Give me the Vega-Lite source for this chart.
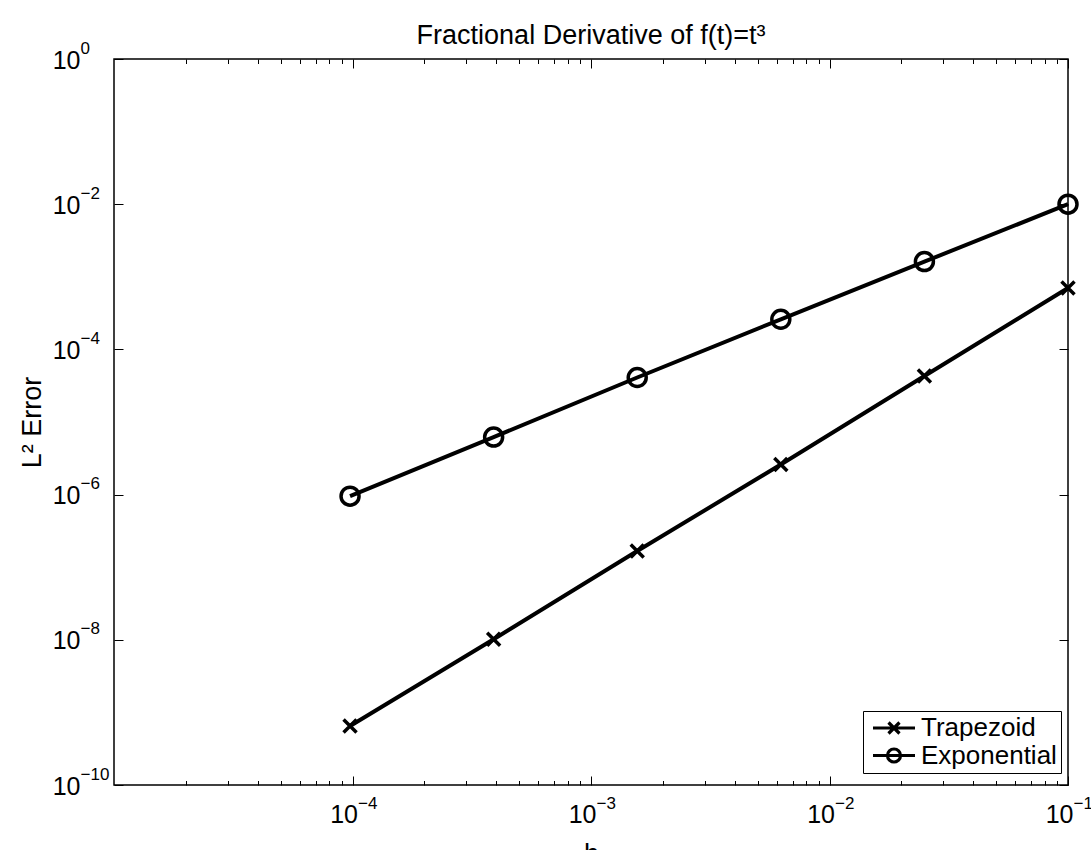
{
  "$schema": "https://vega.github.io/schema/vega-lite/v6.json",
  "width": 954,
  "height": 726,
  "autosize": "none",
  "padding": {"left": 114, "top": 59, "right": 23, "bottom": 65},
  "background": "white",
  "config": {
    "font": "Liberation Sans",
    "view": {"stroke": "black", "strokeWidth": 1.5},
    "axis": {
      "grid": false,
      "domain": false,
      "tickColor": "black",
      "tickWidth": 1,
      "labelColor": "black",
      "labelFont": "Liberation Sans",
      "labelFontSize": 25,
      "labelOverlap": false,
      "labelFlush": false,
      "labelBound": false,
      "titleColor": "black",
      "titleFont": "Liberation Sans",
      "titleFontSize": 27,
      "titleFontWeight": "normal"
    },
    "legend": {
      "orient": "none",
      "legendX": 749,
      "legendY": 652,
      "strokeColor": "black",
      "fillColor": "white",
      "padding": 4,
      "labelFont": "Liberation Sans",
      "labelFontSize": 26,
      "labelColor": "black",
      "symbolSize": 400,
      "symbolStrokeWidth": 3.2,
      "symbolStrokeColor": "black",
      "symbolFillColor": "transparent",
      "symbolOpacity": 1,
      "symbolOffset": 14,
      "labelOffset": 14,
      "rowPadding": 1.5
    }
  },
  "title": {
    "text": "Fractional Derivative of f(t)=t³",
    "font": "Liberation Sans",
    "fontSize": 27,
    "fontWeight": "normal",
    "color": "black",
    "anchor": "middle",
    "frame": "group",
    "baseline": "alphabetic",
    "offset": 12,
    "dy": 44
  },
  "data": {
    "values": [
      {"h": 0.1, "err": 0.0007, "method": "Trapezoid"},
      {"h": 0.025, "err": 0.000043, "method": "Trapezoid"},
      {"h": 0.00625, "err": 0.0000026, "method": "Trapezoid"},
      {"h": 0.0015625, "err": 1.67e-7, "method": "Trapezoid"},
      {"h": 0.000390625, "err": 1.02e-8, "method": "Trapezoid"},
      {"h": 0.00009765625, "err": 6.5e-10, "method": "Trapezoid"},
      {"h": 0.1, "err": 0.01, "method": "Exponential"},
      {"h": 0.025, "err": 0.00162, "method": "Exponential"},
      {"h": 0.00625, "err": 0.00026, "method": "Exponential"},
      {"h": 0.0015625, "err": 0.000041, "method": "Exponential"},
      {"h": 0.000390625, "err": 0.0000062, "method": "Exponential"},
      {"h": 0.00009765625, "err": 9.5e-7, "method": "Exponential"}
    ]
  },
  "layer": [
    {
      "mark": {"type": "line", "color": "black", "strokeWidth": 4},
      "encoding": {
        "x": {
          "field": "h",
          "type": "quantitative",
          "scale": {"type": "log", "domain": [0.00001, 0.1], "nice": false},
          "axis": {
            "orient": "bottom",
            "values": [0.00002, 0.00003, 0.00004, 0.00005, 0.00006, 0.00007, 0.00008, 0.00009, 0.0001, 0.0002, 0.0003, 0.0004, 0.0005, 0.0006, 0.0007, 0.0008, 0.0009, 0.001, 0.002, 0.003, 0.004, 0.005, 0.006, 0.007, 0.008, 0.009, 0.01, 0.02, 0.03, 0.04, 0.05, 0.06, 0.07, 0.08, 0.09, 0.1],
            "tickSize": {"condition": {"test": "indexof([0.0001,0.001,0.01,0.1], datum.value) >= 0", "value": -9}, "value": -4.5},
            "labelExpr": "indexof([0.0001,0.001,0.01,0.1], datum.value) >= 0 ? '10' : ''",
            "labelAlign": "right",
            "labelBaseline": "alphabetic",
            "labelOffset": 5,
            "labelPadding": 46,
            "title": "h",
            "titleX": 477,
            "titleY": 77,
            "titleBaseline": "alphabetic",
            "titleAlign": "center"
          }
        },
        "y": {
          "field": "err",
          "type": "quantitative",
          "scale": {"type": "log", "domain": [1e-10, 1], "nice": false},
          "axis": {
            "orient": "left",
            "values": [1, 0.01, 0.0001, 0.000001, 1e-8, 1e-10],
            "tickSize": -9,
            "labelExpr": "'10'",
            "labelAlign": "right",
            "labelBaseline": "middle",
            "labelOffset": 1,
            "labelPadding": 43,
            "title": "L² Error",
            "titleAngle": 270,
            "titleX": -74,
            "titleY": 363,
            "titleBaseline": "alphabetic",
            "titleAlign": "center"
          }
        },
        "detail": {"field": "method", "type": "nominal"}
      }
    },
    {
      "mark": {"type": "point", "filled": false, "stroke": "black", "strokeWidth": 3.5, "size": 400, "opacity": 1},
      "encoding": {
        "x": {
          "field": "h",
          "type": "quantitative",
          "scale": {"type": "log", "domain": [0.00001, 0.1], "nice": false},
          "axis": {
            "orient": "top",
            "values": [0.00002, 0.00003, 0.00004, 0.00005, 0.00006, 0.00007, 0.00008, 0.00009, 0.0001, 0.0002, 0.0003, 0.0004, 0.0005, 0.0006, 0.0007, 0.0008, 0.0009, 0.001, 0.002, 0.003, 0.004, 0.005, 0.006, 0.007, 0.008, 0.009, 0.01, 0.02, 0.03, 0.04, 0.05, 0.06, 0.07, 0.08, 0.09, 0.1],
            "tickSize": {"condition": {"test": "indexof([0.0001,0.001,0.01,0.1], datum.value) >= 0", "value": -9}, "value": -4.5},
            "labels": false,
            "title": null
          }
        },
        "y": {
          "field": "err",
          "type": "quantitative",
          "scale": {"type": "log", "domain": [1e-10, 1], "nice": false},
          "axis": {
            "orient": "right",
            "values": [1, 0.01, 0.0001, 0.000001, 1e-8, 1e-10],
            "tickSize": -9,
            "labels": false,
            "title": null
          }
        },
        "shape": {
          "field": "method",
          "type": "nominal",
          "scale": {
            "domain": ["Trapezoid", "Exponential"],
            "range": ["M-0.65,-0.65L0.65,0.65M-0.65,0.65L0.65,-0.65", "M-0.9,0A0.9,0.9 0 1,0 0.9,0A0.9,0.9 0 1,0 -0.9,0"]
          },
          "legend": null
        }
      }
    },
    {
      "mark": {"type": "point", "filled": false, "color": "black", "stroke": "black", "strokeWidth": 3.2, "size": 400, "opacity": 0},
      "encoding": {
        "x": {
          "field": "h",
          "type": "quantitative",
          "scale": {"type": "log", "domain": [0.00001, 0.1], "nice": false},
          "axis": {
            "orient": "bottom",
            "values": [0.0001, 0.001, 0.01, 0.1],
            "ticks": false,
            "labelExpr": "datum.value == 0.0001 ? '−4' : datum.value == 0.001 ? '−3' : datum.value == 0.01 ? '−2' : datum.value == 0.1 ? '−1' : ''",
            "labelFontSize": 17,
            "labelAlign": "left",
            "labelBaseline": "alphabetic",
            "labelOffset": 5,
            "labelPadding": 23,
            "title": null
          }
        },
        "y": {
          "field": "err",
          "type": "quantitative",
          "scale": {"type": "log", "domain": [1e-10, 1], "nice": false},
          "axis": {
            "orient": "left",
            "values": [1, 0.01, 0.0001, 0.000001, 1e-8, 1e-10],
            "ticks": false,
            "labelExpr": "datum.value == 1 ? '0' : datum.value == 0.01 ? '−2' : datum.value == 0.0001 ? '−4' : datum.value == 0.000001 ? '−6' : datum.value == 1e-8 ? '−8' : '−10'",
            "labelFontSize": 17,
            "labelAlign": "left",
            "labelBaseline": "middle",
            "labelOffset": -11,
            "labelPadding": 34,
            "title": null
          }
        },
        "shape": {
          "field": "method",
          "type": "nominal",
          "scale": {
            "domain": ["Trapezoid", "Exponential"],
            "range": ["M-2.1,0H2.1M-0.55,-0.55L0.55,0.55M-0.55,0.55L0.55,-0.55", "M-2.1,0H2.1M-0.65,0A0.65,0.65 0 1,0 0.65,0A0.65,0.65 0 1,0 -0.65,0"]
          },
          "legend": {
            "title": null
          }
        }
      }
    }
  ],
  "resolve": {
    "axis": {"x": "independent", "y": "independent"},
    "scale": {"shape": "independent"},
    "legend": {"shape": "independent"}
  }
}
